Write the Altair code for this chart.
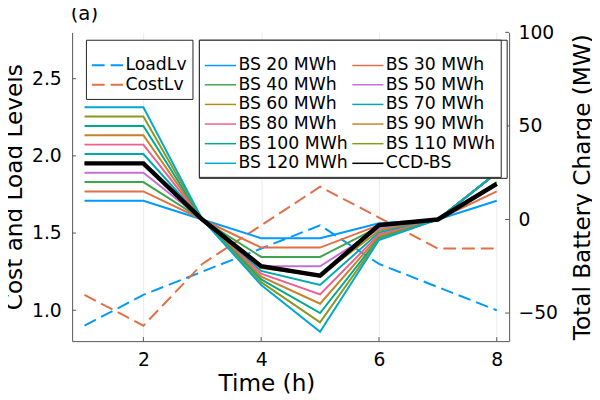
import altair as alt
import pandas as pd

hours = [1, 2, 3, 4, 5, 6, 7, 8]
load_lv = [0.90, 1.10, 1.25, 1.40, 1.55, 1.30, 1.15, 1.00]
cost_lv = [1.10, 0.90, 1.30, 1.55, 1.80, 1.60, 1.40, 1.40]

bs_20 = [10, 10, 0, -10, -10, -2, 0, 10]
bs_30 = [15, 15, 0, -15, -15, -3, 0, 15]
bs_40 = [20, 20, 0, -20, -20, -4, 0, 20]
bs_50 = [25, 25, 0, -25, -25, -5, 0, 25]
bs_60 = [30, 30, 0, -26, -30, -6, 0, 25]
bs_70 = [35, 35, 0, -27.5, -35, -7, 0, 25]
bs_80 = [40, 40, 0, -29, -40, -8, 0, 25]
bs_90 = [45, 45, 0, -30.5, -45, -9, 0, 25]
bs_100 = [50, 50, 0, -32, -50, -10, 0, 25]
bs_110 = [55, 55, 0, -33.5, -55, -10.5, 0, 25]
bs_120 = [60, 60, 0, -35, -60, -11, 0, 25]
ccd_bs = [30, 30, 0, -25, -30, -3, 0, 19]

level_names = ["LoadLv", "CostLv"]
level_colors = ["#009AFA", "#E36F47"]

bs_names = ["BS 20 MWh", "BS 30 MWh", "BS 40 MWh", "BS 50 MWh", "BS 60 MWh",
            "BS 70 MWh", "BS 80 MWh", "BS 90 MWh", "BS 100 MWh", "BS 110 MWh",
            "BS 120 MWh", "CCD-BS"]
bs_colors = ["#009AFA", "#E36F47", "#3EA44E", "#C371D2", "#AC8E18", "#00A9AD",
             "#ED5E93", "#C68225", "#00A98D", "#8E971E", "#00A9CD", "#000000"]
bs_widths = [2, 2, 2, 2, 2, 2, 2, 2, 2, 2, 2, 4.5]
bs_series = [bs_20, bs_30, bs_40, bs_50, bs_60, bs_70, bs_80, bs_90,
             bs_100, bs_110, bs_120, ccd_bs]

x_ticks = [2, 4, 6, 8]
left_ticks = [1.0, 1.5, 2.0, 2.5]
right_ticks = [-50, 0, 50, 100]

W, H = 443, 313
AXC = "#555555"
FONT = "DejaVu Sans"

lv_rows = []
for name, vals in zip(level_names, [load_lv, cost_lv]):
    for h, v in zip(hours, vals):
        lv_rows.append({"hour": h, "value": v, "series": name})
lv_df = pd.DataFrame(lv_rows)

bs_rows = []
for name, vals in zip(bs_names, bs_series):
    for h, v in zip(hours, vals):
        bs_rows.append({"hour": h, "value": v, "name": name})
bs_df = pd.DataFrame(bs_rows)

X = alt.X("hour:Q",
          scale=alt.Scale(domain=[0.79, 8.21], nice=False, zero=False),
          axis=alt.Axis(values=x_ticks, format="d", title="Time (h)",
                        grid=True, gridColor="black", gridOpacity=0.1, gridWidth=0.8,
                        ticks=False, labelPadding=10, domainColor=AXC,
                        titleX=197, titleY=50, titleBaseline="alphabetic",
                        titleAlign="center"))

YL = alt.Y("value:Q",
           scale=alt.Scale(domain=[0.8, 2.8], nice=False, zero=False),
           axis=alt.Axis(orient="left", values=left_ticks, format=".1f",
                         title="Cost and Load Levels", grid=False, ticks=False,
                         labelPadding=11, domainColor=AXC,
                         titleX=-51, titleY=156.5, titleAngle=270,
                         titleBaseline="alphabetic", titleAlign="center"))

YR = alt.Y("value:Q",
           scale=alt.Scale(domain=[-65, 100], nice=False, zero=False),
           axis=alt.Axis(orient="right", values=right_ticks, format="d",
                         title="Total Battery Charge (MW)", grid=False, ticks=False,
                         labelPadding=9, domainColor=AXC,
                         titleX=81, titleY=156.5, titleAngle=270,
                         titleBaseline="alphabetic", titleAlign="center"))

# legend symbol: a horizontal stroke 31.6 px long drawn from a small symbol size
SYM = "M-3.16,0H3.16"

LEG = dict(orient="none", title=" ", titleFontSize=8, titlePadding=4,
           symbolType=SYM, symbolSize=100, symbolOffset=8.05,
           labelFontSize=17.5, labelOffset=9.5,
           labelLimit=300, padding=5, rowPadding=0.9,
           strokeColor="#222222", fillColor="white")

lv_lines = alt.Chart(lv_df).mark_line(strokeDash=[13, 6], strokeWidth=2).encode(
    x=X, y=YL,
    color=alt.Color("series:N",
                    scale=alt.Scale(domain=level_names, range=level_colors),
                    legend=alt.Legend(legendX=14, legendY=7.5,
                                      symbolStrokeWidth=2, symbolDash=[13, 6],
                                      **LEG)),
    detail="series:N",
)

left_tick_df = pd.DataFrame({"value": left_ticks})
left_tick_marks = alt.Chart(left_tick_df).mark_rule(color=AXC, strokeWidth=1).encode(
    y=YL, x=alt.value(0), x2=alt.value(4))

x_tick_df = pd.DataFrame({"hour": x_ticks})
x_tick_marks = alt.Chart(x_tick_df).mark_rule(color=AXC, strokeWidth=1).encode(
    x=X, y=alt.value(H - 4), y2=alt.value(H))

left = alt.layer(lv_lines, left_tick_marks, x_tick_marks)

bs_legend = alt.Legend(legendX=128.5, legendY=7.5, columns=2,
                       direction="horizontal", columnPadding=1.5, **LEG)

bs_lines = alt.Chart(bs_df).mark_line().encode(
    x=X, y=YR,
    color=alt.Color("name:N", sort=bs_names,
                    scale=alt.Scale(domain=bs_names, range=bs_colors),
                    legend=bs_legend),
    strokeWidth=alt.StrokeWidth("name:N", sort=bs_names,
                                scale=alt.Scale(type="ordinal", domain=bs_names,
                                                range=bs_widths),
                                legend=bs_legend),
)

right_tick_df = pd.DataFrame({"value": right_ticks})
right_tick_marks = alt.Chart(right_tick_df).mark_rule(color=AXC, strokeWidth=1).encode(
    y=YR, x=alt.value(W - 4), x2=alt.value(W))

right = alt.layer(bs_lines, right_tick_marks)

chart = alt.layer(left, right).resolve_scale(
    y="independent", color="independent"
).properties(
    width=W, height=H,
    autosize=alt.AutoSizeParams(type="none"),
    padding={"left": 65, "top": 22, "right": 84, "bottom": 57},
    title=alt.TitleParams("(a)", anchor="start", frame="group", fontSize=20,
                          fontWeight="normal", font=FONT, offset=0, dx=-1.5,
                          color="black"),
).configure_view(strokeWidth=0).configure_axis(
    labelFont=FONT, titleFont=FONT, labelFontSize=19, titleFontSize=23.5,
    titleFontWeight="normal", labelColor="black", titleColor="black",
    domainWidth=1,
).configure_legend(labelFont=FONT, labelColor="black", titleFont=FONT)

chart.save("out.html", embed_options={"renderer": "svg", "actions": False})
